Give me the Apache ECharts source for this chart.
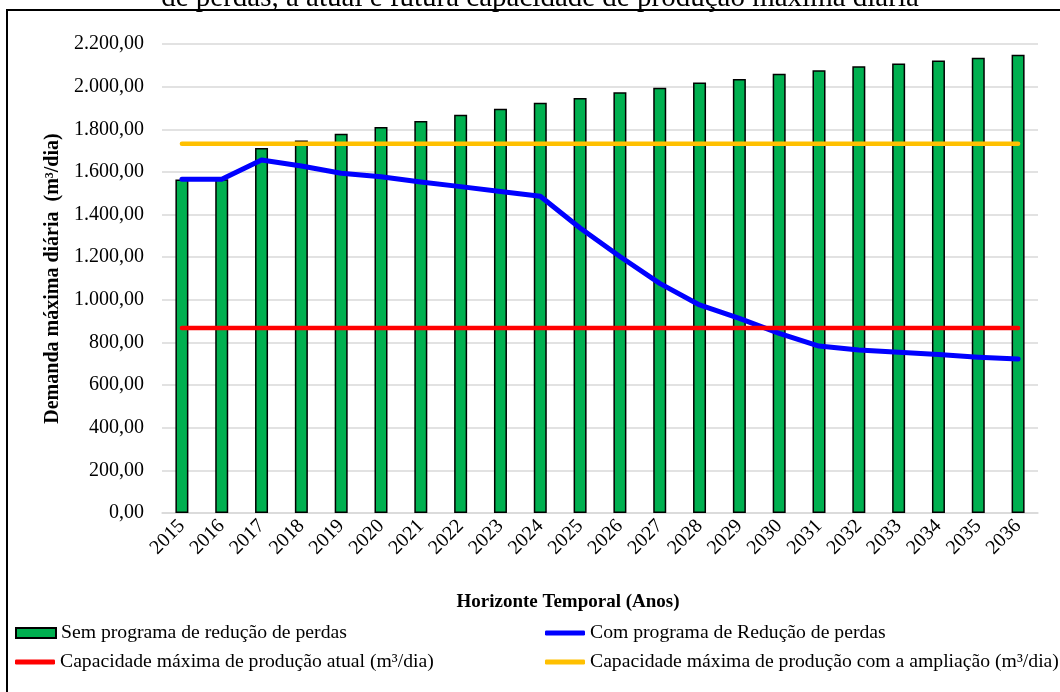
<!DOCTYPE html>
<html>
<head>
<meta charset="utf-8">
<script src="https://cdn.jsdelivr.net/npm/echarts@6/dist/echarts.min.js"></script>
<style>
  html, body { margin: 0; padding: 0; background: #ffffff; }
  #chart { width: 1060px; height: 692px; }
</style>
</head>
<body>
<div id="chart"></div>
<script>
// Horizon years
const years = ['2015','2016','2017','2018','2019','2020','2021','2022','2023','2024','2025',
  '2026','2027','2028','2029','2030','2031','2032','2033','2034','2035','2036'];

// Maximum daily demand without loss-reduction programme (m³/dia)
const semPrograma = [1564, 1566, 1712, 1747, 1779, 1811, 1839, 1868, 1896, 1925, 1947,
  1974, 1995, 2019, 2036, 2060, 2077, 2096, 2109, 2123, 2136, 2150];

// Maximum daily demand with loss-reduction programme (m³/dia)
const comPrograma = [1565, 1565, 1656, 1628, 1594, 1577, 1553, 1531, 1508, 1486, 1337,
  1203, 1077, 976, 913, 843, 783, 765, 754, 743, 731, 722];

// Current maximum production capacity (m³/dia)
const capacidadeAtual = [868, 868, 868, 868, 868, 868, 868, 868, 868, 868, 868,
  868, 868, 868, 868, 868, 868, 868, 868, 868, 868, 868];

// Maximum production capacity after expansion (m³/dia)
const capacidadeAmpliada = [1732, 1732, 1732, 1732, 1732, 1732, 1732, 1732, 1732, 1732, 1732,
  1732, 1732, 1732, 1732, 1732, 1732, 1732, 1732, 1732, 1732, 1732];

// Value axis ticks
const yMin = 0, yMax = 2200, yStep = 200;

const seriesNames = [
  'Sem programa de redução de perdas',
  'Com programa de Redução de perdas',
  'Capacidade máxima de produção atual (m³/dia)',
  'Capacidade máxima de produção com a ampliação (m³/dia)'
];

const FONT = '"Liberation Serif", "Times New Roman", serif';

function formatBR(v) {
  const s = Math.round(v).toString().replace(/\B(?=(\d{3})+(?!\d))/g, '.');
  return s + ',00';
}

const chart = echarts.init(document.getElementById('chart'), null, { renderer: 'canvas' });

const legendText = { fontFamily: FONT, fontSize: 19.7, color: '#000' };

chart.setOption({
  backgroundColor: '#ffffff',
  animation: false,
  textStyle: { fontFamily: FONT, color: '#000' },
  grid: { left: 162, right: 22, top: 44, bottom: 179, containLabel: false },
  graphic: [
    {
      type: 'rect',
      shape: { x: 7, y: 10, width: 1200, height: 900 },
      style: { fill: 'none', stroke: '#000', lineWidth: 2 },
      silent: true
    },
    {
      type: 'text',
      x: 540, y: 13,
      style: {
        text: 'de perdas, a atual e futura capacidade de produção máxima diária',
        font: '29px ' + FONT,
        fill: '#000',
        textAlign: 'center',
        textVerticalAlign: 'bottom'
      },
      silent: true
    },
    {
      type: 'text',
      x: 568, y: 602,
      style: {
        text: 'Horizonte Temporal (Anos)',
        font: 'bold 19px ' + FONT,
        fill: '#000',
        textAlign: 'center',
        textVerticalAlign: 'middle'
      },
      silent: true
    }
  ],
  legend: [
    { data: [seriesNames[0]], left: 15, top: 623, itemWidth: 40, itemHeight: 10, itemGap: 5,
      icon: 'rect', textStyle: legendText, padding: 0 },
    { data: [seriesNames[1]], left: 545, top: 623, itemWidth: 40, itemHeight: 5, itemGap: 4,
      icon: 'roundRect', textStyle: legendText, padding: 0 },
    { data: [seriesNames[2]], left: 15, top: 652, itemWidth: 40, itemHeight: 5, itemGap: 5,
      icon: 'roundRect', textStyle: legendText, padding: 0 },
    { data: [seriesNames[3]], left: 545, top: 652, itemWidth: 40, itemHeight: 5, itemGap: 4,
      icon: 'roundRect', textStyle: legendText, padding: 0 }
  ],
  xAxis: {
    type: 'category',
    data: years,
    boundaryGap: true,
    axisLine: { show: true, lineStyle: { color: '#d9d9d9', width: 1.5 } },
    axisTick: { show: false },
    axisLabel: {
      rotate: 45,
      margin: 10,
      interval: 0,
      fontFamily: FONT,
      fontSize: 20,
      color: '#000'
    }
  },
  yAxis: {
    type: 'value',
    min: yMin, max: yMax, interval: yStep,
    name: 'Demanda máxima diária  (m³/dia)',
    nameLocation: 'middle',
    nameGap: 94,
    nameTextStyle: { fontFamily: FONT, fontSize: 20, fontWeight: 'bold', color: '#000' },
    axisLine: { show: false },
    axisTick: { show: false },
    axisLabel: {
      formatter: formatBR,
      margin: 18,
      fontFamily: FONT,
      fontSize: 20,
      color: '#000'
    },
    splitLine: { lineStyle: { color: '#d9d9d9', width: 1.5 } }
  },
  series: [
    {
      name: seriesNames[0],
      type: 'bar',
      data: semPrograma,
      barWidth: 13,
      itemStyle: { color: '#00b050', borderColor: '#000', borderWidth: 1.5 }
    },
    {
      name: seriesNames[1],
      type: 'line',
      data: comPrograma,
      symbol: 'none',
      itemStyle: { color: '#0000ff' },
      lineStyle: { color: '#0000ff', width: 5, cap: 'round', join: 'round' }
    },
    {
      name: seriesNames[2],
      type: 'line',
      data: capacidadeAtual,
      symbol: 'none',
      itemStyle: { color: '#ff0000' },
      lineStyle: { color: '#ff0000', width: 4.5, cap: 'round' }
    },
    {
      name: seriesNames[3],
      type: 'line',
      data: capacidadeAmpliada,
      symbol: 'none',
      itemStyle: { color: '#ffc000' },
      lineStyle: { color: '#ffc000', width: 4.5, cap: 'round' }
    }
  ]
});
</script>
</body>
</html>
